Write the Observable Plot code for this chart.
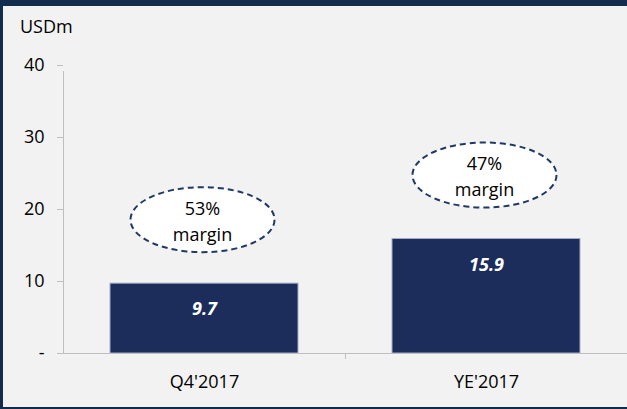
<!DOCTYPE html>
<html>
<head>
<meta charset="utf-8">
<script src="https://cdn.jsdelivr.net/npm/d3@7"></script>
<script src="https://cdn.jsdelivr.net/npm/@observablehq/plot@0.6"></script>
<style>
  html, body { margin: 0; padding: 0; background: #f2f2f2; }
  #wrap {
    position: relative; width: 627px; height: 409px; box-sizing: border-box;
    background: #f2f2f2;
    border-top: 6px solid #132b4d; border-left: 3px solid #132b4d; border-bottom: 2px solid #132b4d;
    font-family: "Open Sans", sans-serif; overflow: hidden;
  }
  #unit { position: absolute; left: 17px; top: 11px; font-size: 18px; line-height: 18px; color: #000; }
  #chart svg { display: block; }
  [aria-label="y-axis tick"], [aria-label="x-axis tick"] { stroke: #bfbfbf; }
</style>
</head>
<body>
<div id="wrap">
  <div id="chart"></div>
  <div id="unit">USDm</div>
</div>
<script>
const categories = ["Q4'2017", "YE'2017"];
const values = [9.7, 15.9];
const valueLabels = ["9.7", "15.9"];
const marginLabels = ["53%", "47%"];
const yTicks = [0, 10, 20, 30, 40];

const data = categories.map((c, i) => ({
  category: c, value: values[i], label: valueLabels[i], margin: marginLabels[i]
}));

const k = 0.5523;
const ellipse = {
  draw(ctx) {
    const rx = 72, ry = 32.5;
    ctx.moveTo(rx, 0);
    ctx.bezierCurveTo(rx, ry * k, rx * k, ry, 0, ry);
    ctx.bezierCurveTo(-rx * k, ry, -rx, ry * k, -rx, 0);
    ctx.bezierCurveTo(-rx, -ry * k, -rx * k, -ry, 0, -ry);
    ctx.bezierCurveTo(rx * k, -ry, rx, -ry * k, rx, 0);
    ctx.closePath();
  }
};

const W = 624, H = 401, ML = 60, MR = 0;
const halfBand = (W - ML - MR) / categories.length / 2;

const chart = Plot.plot({
  width: W, height: H,
  marginLeft: ML, marginRight: MR, marginTop: 59, marginBottom: 54,
  style: { background: "transparent", fontFamily: "Open Sans, sans-serif", fontSize: "18px", color: "#000" },
  x: { domain: categories, padding: 0 },
  y: { domain: [0, 40] },
  marks: [
    Plot.barY(data, { x: "category", y: "value", fill: "#1c2c5b", stroke: "#a3adc4", strokeWidth: 1, insetLeft: 47, insetRight: 47 }),
    Plot.ruleY([0], { stroke: "#bfbfbf" }),
    Plot.ruleX([categories[0]], { x: d => d, dx: -halfBand, y1: 0, y2: 40, insetBottom: -6, stroke: "#bfbfbf" }),
    Plot.ruleX(categories.slice(1), { x: d => d, dx: -halfBand, y1: 0, y2: 0, insetBottom: -6, stroke: "#bfbfbf" }),
    Plot.axisY(yTicks, { tickSize: 6, tickPadding: 13, tickFormat: d => d === 0 ? "-" : String(d), label: null, fontSize: 18 }),
    Plot.axisX({ tickSize: 0, tickPadding: 22, label: null, fontSize: 18 }),
    Plot.text(data, { x: "category", y: "value", dy: 26, text: "label", fill: "white", fontWeight: "bold", fontStyle: "italic", fontSize: 18 }),
    Plot.dot(data, { x: "category", y: "value", dx: -2, dy: -64, symbol: ellipse, r: 10, fill: "white", stroke: "#1f3864", strokeWidth: 2, strokeDasharray: "6,4" }),
    Plot.text(data, { x: "category", y: "value", dx: -2, dy: -64, text: d => d.margin + "\nmargin", lineHeight: 1.45, fontSize: 18, fill: "#000" })
  ]
});
document.getElementById("chart").appendChild(chart);
</script>
</body>
</html>
